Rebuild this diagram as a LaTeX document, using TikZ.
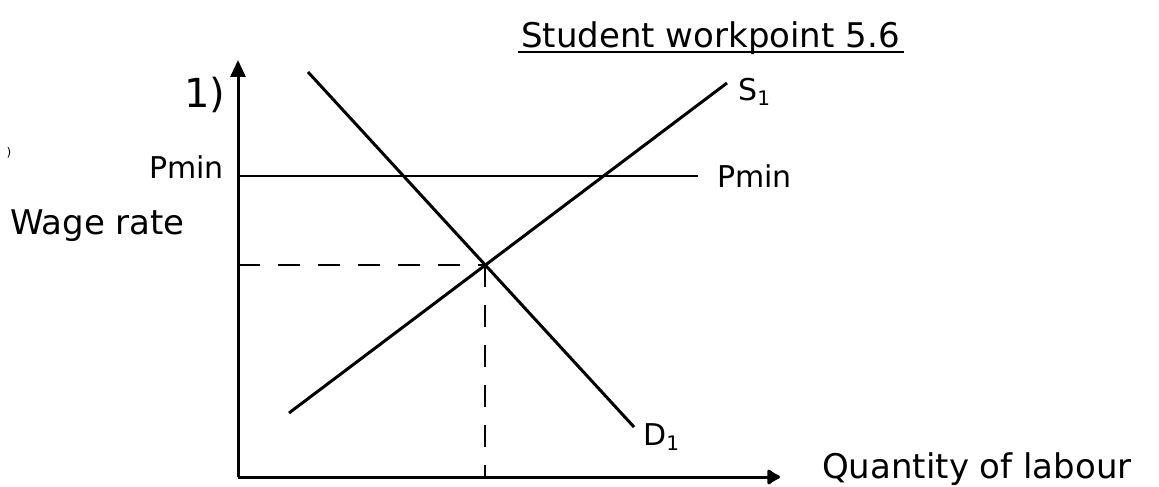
\documentclass[tikz,border=0pt]{standalone}
\usepackage{fontspec}
\setmainfont{DejaVu Sans}
\usetikzlibrary{arrows.meta}
\newcommand{\subone}{\raisebox{-0.35ex}{\fontsize{20}{22}\selectfont 1}}
\begin{document}
\begin{tikzpicture}[x=1pt,y=-1pt,
  axis/.style={line width=3pt},
  curve/.style={line width=3pt},
  level/.style={line width=2.2pt},
  guide/.style={line width=2pt, dash pattern=on 22pt off 18pt},
  lbl/.style={font=\fontsize{30}{34}\selectfont, inner sep=0pt},
  big/.style={font=\fontsize{34}{38}\selectfont, inner sep=0pt}]
\useasboundingbox (0,0) rectangle (1159,487);
% title
\node[big, anchor=base west] (title) at (521,48) {Student workpoint 5.6};
\coordinate (ul1) at (518,52);
\coordinate (ul2) at (title.base east |- ul1);
\draw[line width=1.8pt] (ul1) -- ([xshift=4pt]ul2);
% axes
\coordinate (O) at (238,477);
\coordinate (ytip) at (238,60);
\coordinate (xtip) at (780,477);
\draw[axis, -{Triangle[length=17pt,width=15pt]}] (O) -- (ytip);
\draw[axis, -{Latex[length=15pt,width=19pt,round]}] (O) -- (xtip);
% curves
\coordinate (s0) at (289,413);
\coordinate (s1) at (727,83);
\coordinate (d0) at (308,72);
\coordinate (d1) at (634,427);
\coordinate (E) at (485,265);
\draw[curve] (s0) -- (s1);
\draw[curve] (d0) -- (d1);
% Pmin
\coordinate (p0) at (238,176);
\coordinate (p1) at (698,176);
\draw[level] (p0) -- (p1);
% dashed guides
\coordinate (ey) at (238,265);
\coordinate (ex) at (485,477);
\draw[guide] (ey) -- (E);
\draw[guide] (E) -- (ex);
% labels
\node[lbl, anchor=base east] (pminL) at (224,178) {Pmin};
\node[lbl, anchor=base west] (pminR) at (717,187) {Pmin};
\node[big, anchor=base west] (wage) at (10,234) {Wage rate};
\node[big, anchor=base west] (qty) at (822,478) {Quantity of labour};
\node[lbl, anchor=base west] (S1) at (738,100) {S\subone};
\node[lbl, anchor=base west] (D1) at (643,445) {D\subone};
\node[font=\fontsize{40}{44}\selectfont, inner sep=0pt] (one) at (205,95) {1)};
\node[font=\fontsize{12}{14}\selectfont, inner sep=0pt] (mark) at (9,153) {)};
\end{tikzpicture}
\end{document}
